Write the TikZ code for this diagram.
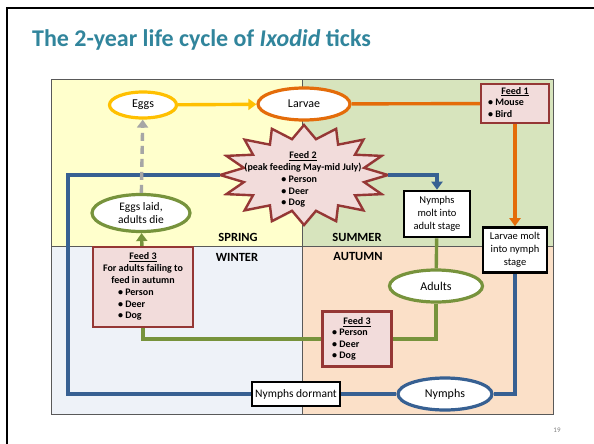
\documentclass[tikz,border=0pt]{standalone}
\usepackage{fontspec}
\setmainfont{Carlito}
\usepackage{xcolor}
\usepackage{tikz}
\usetikzlibrary{arrows.meta,positioning,shapes.geometric,shadows}
\definecolor{tickteal}{HTML}{31859C}
\definecolor{tickyellow}{HTML}{FFC000}
\definecolor{tickorange}{HTML}{E46C0A}
\definecolor{tickblue}{HTML}{376092}
\definecolor{tickgreen}{HTML}{77933C}
\definecolor{tickred}{HTML}{953735}
\definecolor{tickpink}{HTML}{F2DCDB}
\definecolor{springfill}{HTML}{FFFFCC}
\definecolor{summerfill}{HTML}{D7E4BD}
\definecolor{winterfill}{HTML}{EEF2F8}
\definecolor{autumnfill}{HTML}{FBE0C8}

\begin{document}
\begin{tikzpicture}[x=1pt,y=-1pt,
        lifestage/.style={
            ellipse,
            draw=#1,
            line width=3.2pt,
            fill=white,
            inner sep=0pt,
            font=\fontsize{12}{13}\selectfont,
            drop shadow={opacity=0.25,shadow xshift=1pt,shadow yshift=-1.2pt}
        },
        moltbox/.style={
            draw=black,
            line width=2.6pt,
            fill=white,
            inner sep=1pt,
            align=center,
            font=\fontsize{10.5}{13}\selectfont,
            drop shadow={opacity=0.25,shadow xshift=1pt,shadow yshift=-1.2pt}
        },
        feedbox/.style={
            draw=tickred,
            line width=2.4pt,
            fill=tickpink,
            inner sep=1pt,
            font=\bfseries\fontsize{10}{11.8}\selectfont,
            drop shadow={opacity=0.25,shadow xshift=1pt,shadow yshift=-1.2pt}
        },
        season/.style={font=\bfseries\fontsize{12.5}{14}\selectfont},
        link/.style={line width=3.4pt,draw=#1},
        arr/.style={-{Triangle[width=11pt,length=8pt]}}
    ]
    \useasboundingbox (0,0) rectangle (594,444);
    \fill[white] (0,0) rectangle (594,444);
    % slide frame
    \draw[line width=2.4pt] (7,444) -- (7,8) -- (594,8);
    \node[anchor=base west,inner sep=0pt,text=tickteal,
          font=\bfseries\fontsize{24}{28}\selectfont] (title) at (32,47)
          {The 2-year life cycle of \textit{Ixodid} ticks};
    \node[text=gray,font=\fontsize{7}{8}\selectfont] (pageno) at (557,430) {19};

    % seasons
    \draw[draw=black!65,line width=0.9pt,fill=springfill] (51,79) rectangle (302,246);
    \draw[draw=black!65,line width=0.9pt,fill=summerfill] (302,79) rectangle (553,246);
    \draw[draw=black!65,line width=0.9pt,fill=winterfill] (51,246) rectangle (302,414);
    \draw[draw=black!65,line width=0.9pt,fill=autumnfill] (302,246) rectangle (553,414);
    \node[season] (spring) at (238,237) {SPRING};
    \node[season] (summer) at (357,237) {SUMMER};
    \node[season] (winter) at (237,257) {WINTER};
    \node[season] (autumn) at (358,256) {AUTUMN};

    % peak feeding star
    \draw[draw=tickred,line width=2.4pt,fill=tickpink,
          drop shadow={opacity=0.25,shadow xshift=1pt,shadow yshift=-1.2pt}]
        plot[samples at={0,...,31}]
        ({304+84*(1-0.27*mod(\x,2))*cos(\x*11.25)},{175+50*(1-0.27*mod(\x,2))*sin(\x*11.25)}) -- cycle;
    \coordinate (feedtwoW) at (220,175);
    \coordinate (feedtwoE) at (388,175);
    \node[inner sep=0pt,font=\bfseries\fontsize{10}{11.8}\selectfont] (feedtwo) at (303,180) {%
        \begin{tabular}{@{}l@{}}
            \multicolumn{1}{@{}c@{}}{\underline{Feed 2}}\\
            (peak feeding May-mid July)\\
            \hspace*{37pt}\textbullet{} Person\\
            \hspace*{37pt}\textbullet{} Deer\\
            \hspace*{37pt}\textbullet{} Dog
        \end{tabular}};

    % stages
    \node[lifestage=tickyellow,minimum width=67pt,minimum height=26pt] (eggs) at (143,105) {Eggs};
    \node[lifestage=tickorange,minimum width=92pt,minimum height=32pt] (larvae) at (304,104) {Larvae};
    \node[lifestage=tickgreen,minimum width=98pt,minimum height=37pt,align=center,
          font=\fontsize{11.5}{13}\selectfont] (laid) at (141,213) {Eggs laid,\\adults die};
    \node[lifestage=tickgreen,minimum width=93pt,minimum height=32pt] (adults) at (436,286) {Adults};
    \node[lifestage=tickblue,minimum width=94pt,minimum height=32pt] (nymphs) at (445,394) {Nymphs};

    \node[moltbox,minimum width=64pt,minimum height=45pt] (larvmolt) at (515,250) {Larvae molt\\into nymph\\stage};
    \node[moltbox,minimum width=66pt,minimum height=46pt] (nymphmolt) at (437,214) {Nymphs\\molt into\\adult stage};
    \node[moltbox,minimum width=88pt,minimum height=24pt,font=\fontsize{11.5}{13}\selectfont] (dormant) at (296,394) {Nymphs dormant};

    \node[feedbox,minimum width=68pt,minimum height=39pt] (feedone) at (515,103.5) {%
        \begin{tabular}{@{}l@{}}
            \multicolumn{1}{@{}c@{}}{\underline{Feed 1}}\\
            \textbullet{} Mouse\hspace*{18pt}\\
            \textbullet{} Bird
        \end{tabular}};
    \node[feedbox,minimum width=69pt,minimum height=55pt] (feedaut) at (357,339) {%
        \begin{tabular}{@{}l@{}}
            \multicolumn{1}{@{}c@{}}{\underline{Feed 3}}\\[-0.5pt]
            \textbullet{} Person\hspace*{14pt}\\[-0.5pt]
            \textbullet{} Deer\\[-0.5pt]
            \textbullet{} Dog
        \end{tabular}};
    \node[feedbox,minimum width=100pt,minimum height=80pt] (feedwin) at (143,287) {%
        \begin{tabular}{@{}l@{}}
            \multicolumn{1}{@{}c@{}}{\underline{Feed 3}}\\
            \multicolumn{1}{@{}c@{}}{For adults failing to}\\
            \multicolumn{1}{@{}c@{}}{feed in autumn}\\
            \hspace*{15pt}\textbullet{} Person\\
            \hspace*{15pt}\textbullet{} Deer\\
            \hspace*{15pt}\textbullet{} Dog
        \end{tabular}};

    % year one
    \draw[link=tickyellow,arr] (eggs) -- (larvae);
    \draw[link=tickorange] (larvae) -- (feedone);
    \draw[link=tickorange,arr] (feedone) -- (larvmolt);
    \draw[link=tickblue] (larvmolt.south) |- (nymphs.east);
    \draw[link=tickblue] (nymphs) -- (dormant);
    \coordinate (winterbend) at (68,175);
    \draw[link=tickblue] (dormant.west) -| (winterbend) -- (feedtwoW);
    % year two
    \draw[link=tickblue,arr] (feedtwoE) -| (nymphmolt.north);
    \draw[link=tickgreen] (nymphmolt) -- (adults);
    \draw[link=tickgreen] (adults.south) |- (feedaut.east);
    \draw[link=tickgreen] (feedaut.west) -| (feedwin.south);
    \draw[link=tickgreen,arr] (feedwin) -- (laid);
    \draw[link=black!35,arr,dashed,dash pattern=on 8pt off 5pt] (laid) -- (eggs);
\end{tikzpicture}
\end{document}
